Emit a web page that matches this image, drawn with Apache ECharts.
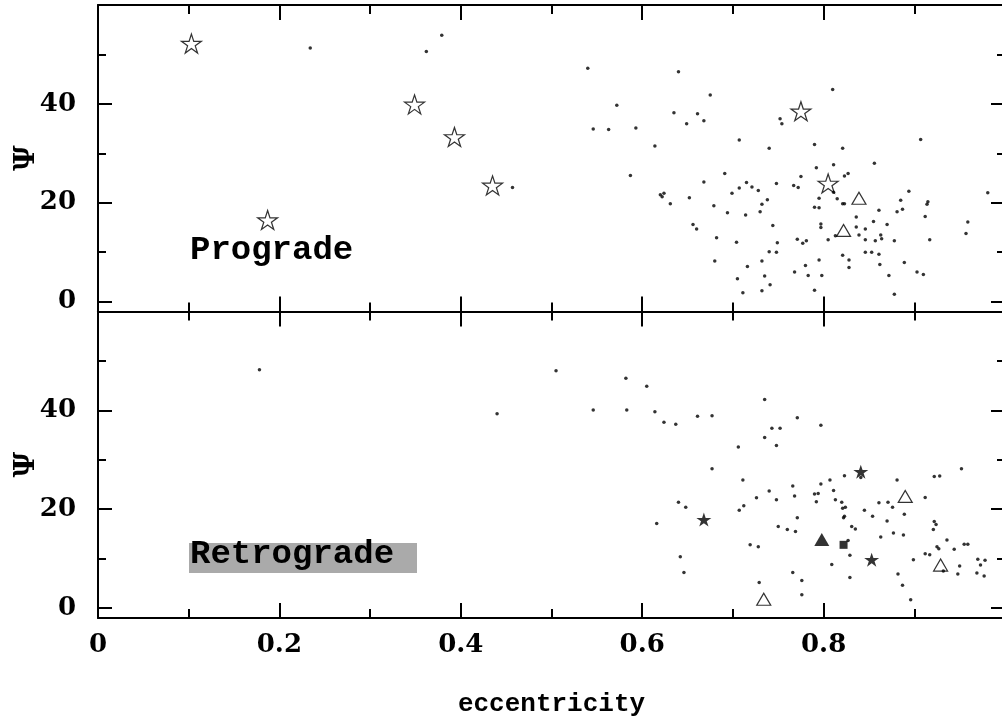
<!DOCTYPE html>
<html>
<head>
<meta charset="utf-8">
<script src="https://cdn.jsdelivr.net/npm/echarts@6/dist/echarts.min.js"></script>
<style>
html,body{margin:0;padding:0;background:#fff;}
#chart{width:1002px;height:723px;}
</style>
</head>
<body>
<div id="chart"></div>
<script>
// ---------- data ----------
const xMajorTicks = [0, 0.2, 0.4, 0.6, 0.8, 1.0];
const xMinorTicks = [0.1, 0.3, 0.5, 0.7, 0.9];
const xTickLabels = [0, 0.2, 0.4, 0.6, 0.8];
const yMajorTicks = [0, 20, 40];
const yMinorTicks = [10, 30, 50];
const yTickLabels = [0, 20, 40];

const progradeDots = [
[0.234,51.3],[0.362,50.6],[0.379,53.9],[0.457,23.1],[0.540,47.2],[0.640,46.5],[0.572,39.7],[0.675,41.8],
[0.635,38.2],[0.661,38.0],[0.649,36.0],[0.668,36.6],[0.546,34.9],[0.563,34.8],[0.593,35.1],[0.614,31.5],
[0.587,25.5],[0.810,42.9],[0.752,37.0],[0.754,36.0],[0.707,32.7],[0.740,31.0],[0.790,31.8],[0.821,31.0],
[0.907,32.8],[0.856,28.0],[0.811,27.7],[0.792,27.1],[0.775,25.3],[0.827,25.9],[0.823,25.4],[0.691,25.9],
[0.668,24.2],[0.715,24.1],[0.721,23.2],[0.707,23.0],[0.728,22.5],[0.699,21.9],[0.748,23.9],[0.767,23.5],
[0.772,23.1],[0.620,21.6],[0.624,21.9],[0.622,21.2],[0.631,19.8],[0.652,21.0],[0.679,19.4],[0.694,18.0],
[0.714,17.5],[0.738,20.6],[0.732,19.7],[0.730,18.2],[0.811,22.1],[0.795,20.9],[0.815,20.8],[0.790,19.1],
[0.795,19.0],[0.821,19.8],[0.823,19.8],[0.894,22.3],[0.885,20.5],[0.887,18.7],[0.881,18.2],[0.861,18.5],
[0.915,20.2],[0.914,19.7],[0.912,17.2],[0.981,22.0],[0.959,16.1],[0.957,13.8],[0.836,17.1],[0.836,15.1],
[0.846,14.7],[0.855,16.2],[0.870,15.6],[0.839,13.5],[0.846,12.5],[0.857,12.3],[0.863,13.5],[0.864,12.7],
[0.878,12.3],[0.917,12.5],[0.813,13.3],[0.797,15.7],[0.797,15.0],[0.805,12.5],[0.771,12.6],[0.777,11.8],
[0.781,12.3],[0.744,15.4],[0.749,11.9],[0.748,10.0],[0.740,10.1],[0.704,12.0],[0.682,12.9],[0.656,15.6],
[0.660,14.7],[0.680,8.2],[0.716,7.1],[0.732,8.2],[0.705,4.6],[0.711,1.8],[0.735,5.2],[0.741,3.4],
[0.732,2.2],[0.768,6.0],[0.780,7.3],[0.783,5.3],[0.798,5.3],[0.795,8.4],[0.790,2.3],[0.821,9.4],
[0.828,8.4],[0.828,6.9],[0.846,10.0],[0.853,10.0],[0.861,9.6],[0.862,7.5],[0.872,5.3],[0.878,1.5],
[0.889,7.9],[0.903,6.0],[0.910,5.5]
];
const progradeOpenStars = [[0.103,52.2],[0.187,16.5],[0.349,39.9],[0.393,33.3],[0.435,23.5],[0.775,38.5],[0.805,23.9]];
const progradeOpenTriangles = [[0.839,20.9],[0.822,14.4]];

const retrogradeDots = [
[0.178,48.2],[0.440,39.3],[0.505,48.0],[0.582,46.5],[0.605,44.9],[0.546,40.1],[0.583,40.1],[0.614,39.7],
[0.624,37.6],[0.637,37.2],[0.661,38.8],[0.677,38.9],[0.735,42.2],[0.771,38.5],[0.797,37.0],[0.743,36.4],
[0.752,36.4],[0.735,34.5],[0.748,32.9],[0.706,32.6],[0.677,28.2],[0.711,25.9],[0.640,21.4],[0.648,20.4],
[0.616,17.1],[0.642,10.4],[0.646,7.2],[0.726,22.3],[0.712,20.7],[0.707,19.8],[0.740,23.7],[0.748,21.9],
[0.766,24.7],[0.768,22.7],[0.750,16.5],[0.760,15.9],[0.769,15.5],[0.771,18.3],[0.719,12.8],[0.728,12.4],
[0.729,5.2],[0.766,7.2],[0.776,5.6],[0.776,2.7],[0.790,23.1],[0.794,23.2],[0.792,21.5],[0.797,25.1],
[0.807,25.9],[0.823,26.8],[0.841,26.4],[0.811,23.8],[0.813,21.9],[0.820,21.4],[0.821,20.2],[0.824,20.4],
[0.823,18.6],[0.822,18.3],[0.831,16.5],[0.835,16.0],[0.827,13.7],[0.829,10.7],[0.809,8.8],[0.829,6.2],
[0.845,19.8],[0.854,18.6],[0.861,21.3],[0.871,21.4],[0.876,20.4],[0.881,25.9],[0.889,19.0],[0.870,17.6],
[0.863,14.4],[0.877,15.2],[0.888,14.8],[0.912,22.4],[0.922,26.6],[0.928,26.7],[0.952,28.2],[0.922,17.5],
[0.924,16.9],[0.921,15.9],[0.936,13.8],[0.925,12.4],[0.927,12.0],[0.944,11.9],[0.955,12.9],[0.959,12.9],
[0.912,11.0],[0.917,10.8],[0.899,9.8],[0.932,7.5],[0.950,8.5],[0.948,6.9],[0.970,9.9],[0.973,8.7],
[0.978,9.7],[0.969,7.1],[0.977,6.5],[0.882,6.9],[0.887,4.6],[0.896,1.7]
];
const retrogradeFilledStars = [[0.668,17.9],[0.841,27.6],[0.853,9.8]];
const retrogradeOpenTriangles = [[0.734,1.8],[0.890,22.6],[0.929,8.7]];
const retrogradeFilledTriangles = [[0.798,13.9]];
const retrogradeSquares = [[0.822,12.8]];

// ---------- chart ----------
const STAR = 'path://M100 0 L122.45 69.1 L195.1 69.1 L136.3 111.8 L158.8 180.9 L100 138.2 L41.2 180.9 L63.7 111.8 L4.9 69.1 L77.55 69.1 Z';
const LABEL_FONT = 'DejaVu Serif';
const MONO = 'Liberation Mono';

const grids = [
  {left: 98, width: 907, top: 5, height: 306.5, outerBoundsMode: 'none', containLabel: false},
  {left: 98, width: 907, top: 311.5, height: 306.5, outerBoundsMode: 'none', containLabel: false}
];

const xAxes = [], yAxes = [];
function xAx(g, pos, ticks, len, line, labels, name) {
  const a = {
    type: 'value', gridIndex: g, position: pos, min: 0, max: 1,
    axisLine: {show: line, onZero: false, lineStyle: {color: '#000', width: 2}},
    axisTick: {show: true, inside: true, length: len, customValues: ticks, lineStyle: {color: '#000', width: 2}},
    axisLabel: labels ? {show: true, customValues: xTickLabels, margin: 14, color: '#000',
      fontFamily: LABEL_FONT, fontWeight: 'bold', fontSize: 26,
      formatter: v => (v === 0 ? '0' : String(+(+v).toFixed(1)))} : {show: false},
    splitLine: {show: false}
  };
  if (name) {
    a.name = name; a.nameLocation = 'middle'; a.nameGap = 73; a.nameMoveOverlap = false;
    a.nameTextStyle = {fontFamily: MONO, fontWeight: 'bold', fontSize: 26, color: '#000'};
  }
  xAxes.push(a);
  return xAxes.length - 1;
}
function yAx(g, pos, ticks, len, line, labels, name) {
  const a = {
    type: 'value', gridIndex: g, position: pos, min: -2, max: 60,
    axisLine: {show: line, onZero: false, lineStyle: {color: '#000', width: 2}},
    axisTick: {show: true, inside: true, length: len, customValues: ticks, lineStyle: {color: '#000', width: 2}},
    axisLabel: labels ? {show: true, customValues: yTickLabels, margin: 22, color: '#000',
      fontFamily: LABEL_FONT, fontWeight: 'bold', fontSize: 26} : {show: false},
    splitLine: {show: false}
  };
  if (name) {
    a.name = name; a.nameLocation = 'middle'; a.nameGap = 57; a.nameRotate = 90; a.nameMoveOverlap = false;
    a.nameTextStyle = {fontFamily: LABEL_FONT, fontWeight: 'bold', fontSize: 28, color: '#000'};
  }
  yAxes.push(a);
  return yAxes.length - 1;
}

const mainX = [], mainY = [];
for (let g = 0; g < 2; g++) {
  mainX.push(xAx(g, 'bottom', xMajorTicks, 15, true, g === 1, g === 1 ? 'eccentricity' : null));
  xAx(g, 'bottom', xMinorTicks, 9, false, false, null);
  xAx(g, 'top', xMajorTicks, 15, true, false, null);
  xAx(g, 'top', xMinorTicks, 9, false, false, null);
  mainY.push(yAx(g, 'left', yMajorTicks, 14, true, true, 'Ψ'));
  yAx(g, 'left', yMinorTicks, 8, false, false, null);
  yAx(g, 'right', yMajorTicks, 14, true, false, null);
  yAx(g, 'right', yMinorTicks, 8, false, false, null);
}

function sc(g, data, symbol, size, filled, z) {
  return {
    type: 'scatter', xAxisIndex: mainX[g], yAxisIndex: mainY[g], data: data,
    symbol: symbol, symbolSize: size, z: z || 2,
    itemStyle: filled ? {color: '#000', borderWidth: 0}
                      : {color: 'rgba(255,255,255,0)', borderColor: '#000', borderWidth: 1.2},
    emphasis: {disabled: true}, silent: true, animation: false
  };
}

const series = [
  sc(0, progradeDots, 'circle', 3.5, true),
  sc(0, progradeOpenStars, STAR, [20, 19], false, 3),
  sc(0, progradeOpenTriangles, 'triangle', [14, 12], false, 3),
  sc(1, retrogradeDots, 'circle', 3.5, true),
  sc(1, retrogradeFilledStars, STAR, [15, 14], true, 3),
  sc(1, retrogradeOpenTriangles, 'triangle', [14, 12], false, 3),
  sc(1, retrogradeFilledTriangles, 'triangle', [15, 13], true, 3),
  sc(1, retrogradeSquares, 'rect', 8, true, 3)
];

const chart = echarts.init(document.getElementById('chart'), null, {renderer: 'canvas'});
chart.setOption({
  backgroundColor: '#fff',
  animation: false,
  grid: grids,
  xAxis: xAxes,
  yAxis: yAxes,
  series: series,
  graphic: [
    {type: 'text', left: 190, top: 233, z: 10,
     style: {text: 'Prograde', font: 'bold 34px "Liberation Mono"', fill: '#000'}},
    {type: 'rect', left: 189, top: 543, z: 9,
     shape: {width: 228, height: 30}, style: {fill: '#aaaaaa'}},
    {type: 'text', left: 190, top: 537, z: 10,
     style: {text: 'Retrograde', font: 'bold 34px "Liberation Mono"', fill: '#000'}}
  ]
});
</script>
</body>
</html>
